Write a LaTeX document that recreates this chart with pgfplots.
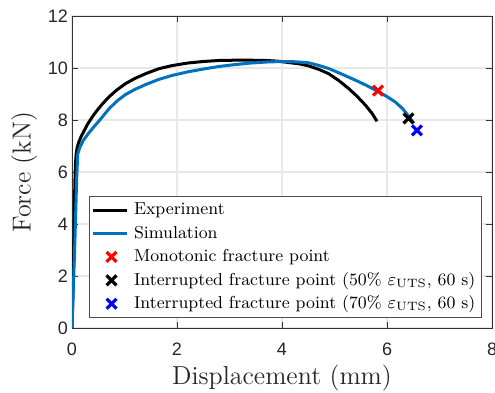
\documentclass[border=0pt]{standalone}
\usepackage{fontspec}
\usepackage{pgfplots}
\pgfplotsset{compat=1.18}
\usetikzlibrary{calc}
\newfontfamily\ticksans{Liberation Sans}
\definecolor{mblue}{rgb}{0,0.447,0.741}
\pgfplotsset{
  lineleg/.style={legend image code/.code={\draw[##1] plot coordinates {(0cm,0cm) (0.65cm,0cm)};}},
  markleg/.style={legend image code/.code={\draw[##1, overlay] plot coordinates {(0.325cm,0cm)};
      \path[draw=none, fill=none] (0cm,-0.75pt) (0.65cm,0.75pt);}},
}
\begin{document}
\begin{tikzpicture}
\begin{axis}[
  scale only axis,
  width=210pt, height=156pt,
  xmin=0, xmax=8, ymin=0, ymax=12,
  xtick={0,2,4,6,8}, ytick={0,2,4,6,8,10,12},
  grid=major,
  grid style={gray!18, line width=0.6pt},
  axis line style={black!80, line width=0.5pt},
  tick style={black!80},
  tick align=inside,
  major tick length=3pt,
  /pgf/number format/assume math mode=true,
  tick label style={font=\ticksans\fontsize{9}{10}\selectfont, black!85},
  xticklabel style={yshift=-4pt},
  yticklabel style={xshift=1.5pt},
  xlabel={Displacement (mm)},
  ylabel={Force (kN)},
  label style={font=\fontsize{13}{14}\selectfont, black!85},
  xlabel style={yshift=2.5pt},
  ylabel style={yshift=-1.5pt},
  legend style={at={(0.976,0.032)}, anchor=south east,
    font=\fontsize{8.65}{10}\selectfont, draw=black!70, line width=0.6pt,
    inner sep=1pt, row sep=0pt,
    cells={anchor=west, text height=6.2pt, text depth=2.25pt}},
]
\addplot[black, line width=1.5pt, line join=round] coordinates {
(0,0) (0.02,1.5) (0.035,3) (0.045,4.5) (0.055,5.6) (0.065,6.3) (0.08,6.7) (0.1,6.95) (0.13,7.15)
(0.17,7.35) (0.24,7.62) (0.3,7.85) (0.38,8.1) (0.47,8.35) (0.58,8.62) (0.7,8.88) (0.85,9.15)
(1.02,9.4) (1.2,9.6) (1.4,9.78) (1.65,9.97) (1.9,10.09) (2.2,10.19) (2.5,10.25) (2.8,10.29)
(3.1,10.3) (3.4,10.3) (3.7,10.29) (3.94,10.26) (4.13,10.21) (4.33,10.16) (4.51,10.08) (4.7,9.95)
(4.89,9.78) (5.08,9.52) (5.27,9.21) (5.43,8.91) (5.59,8.57) (5.71,8.27) (5.81,7.95)};
\addlegendentry{Experiment}
\addplot[mblue, line width=1.5pt, line join=round] coordinates {
(0,0) (0.05,3) (0.09,5.8) (0.11,6.7) (0.15,6.95) (0.21,7.2) (0.3,7.45) (0.4,7.7) (0.53,8.0)
(0.7,8.42) (0.85,8.72) (1.02,8.98) (1.2,9.18) (1.4,9.36) (1.65,9.56) (1.9,9.71) (2.2,9.85)
(2.5,9.96) (2.8,10.06) (3.1,10.13) (3.4,10.19) (3.7,10.23) (4.0,10.25) (4.25,10.24) (4.51,10.2)
(4.7,10.1) (4.89,9.98) (5.1,9.8) (5.4,9.53) (5.6,9.34) (5.81,9.12) (6.0,8.9) (6.16,8.69)
(6.3,8.43) (6.41,8.15) (6.51,7.88)};
\addlegendentry{Simulation}
\addplot[only marks, mark=x, mark size=3.5pt, red, line width=1.6pt, markleg] coordinates {(5.83,9.13)};
\addlegendentry{Monotonic fracture point}
\addplot[only marks, mark=x, mark size=3.5pt, black, line width=1.6pt, markleg] coordinates {(6.41,8.06)};
\addlegendentry{Interrupted fracture point (50\% $\varepsilon_{\mathrm{UTS}}$, 60 s)}
\addplot[only marks, mark=x, mark size=3.5pt, blue, line width=1.6pt, markleg] coordinates {(6.57,7.6)};
\addlegendentry{Interrupted fracture point (70\% $\varepsilon_{\mathrm{UTS}}$, 60 s)}
\end{axis}
\pgfresetboundingbox
\path ($(current axis.south west)+(-36pt,-32pt)$) rectangle ($(current axis.north east)+(1.5pt,8pt)$);
\end{tikzpicture}
\end{document}
